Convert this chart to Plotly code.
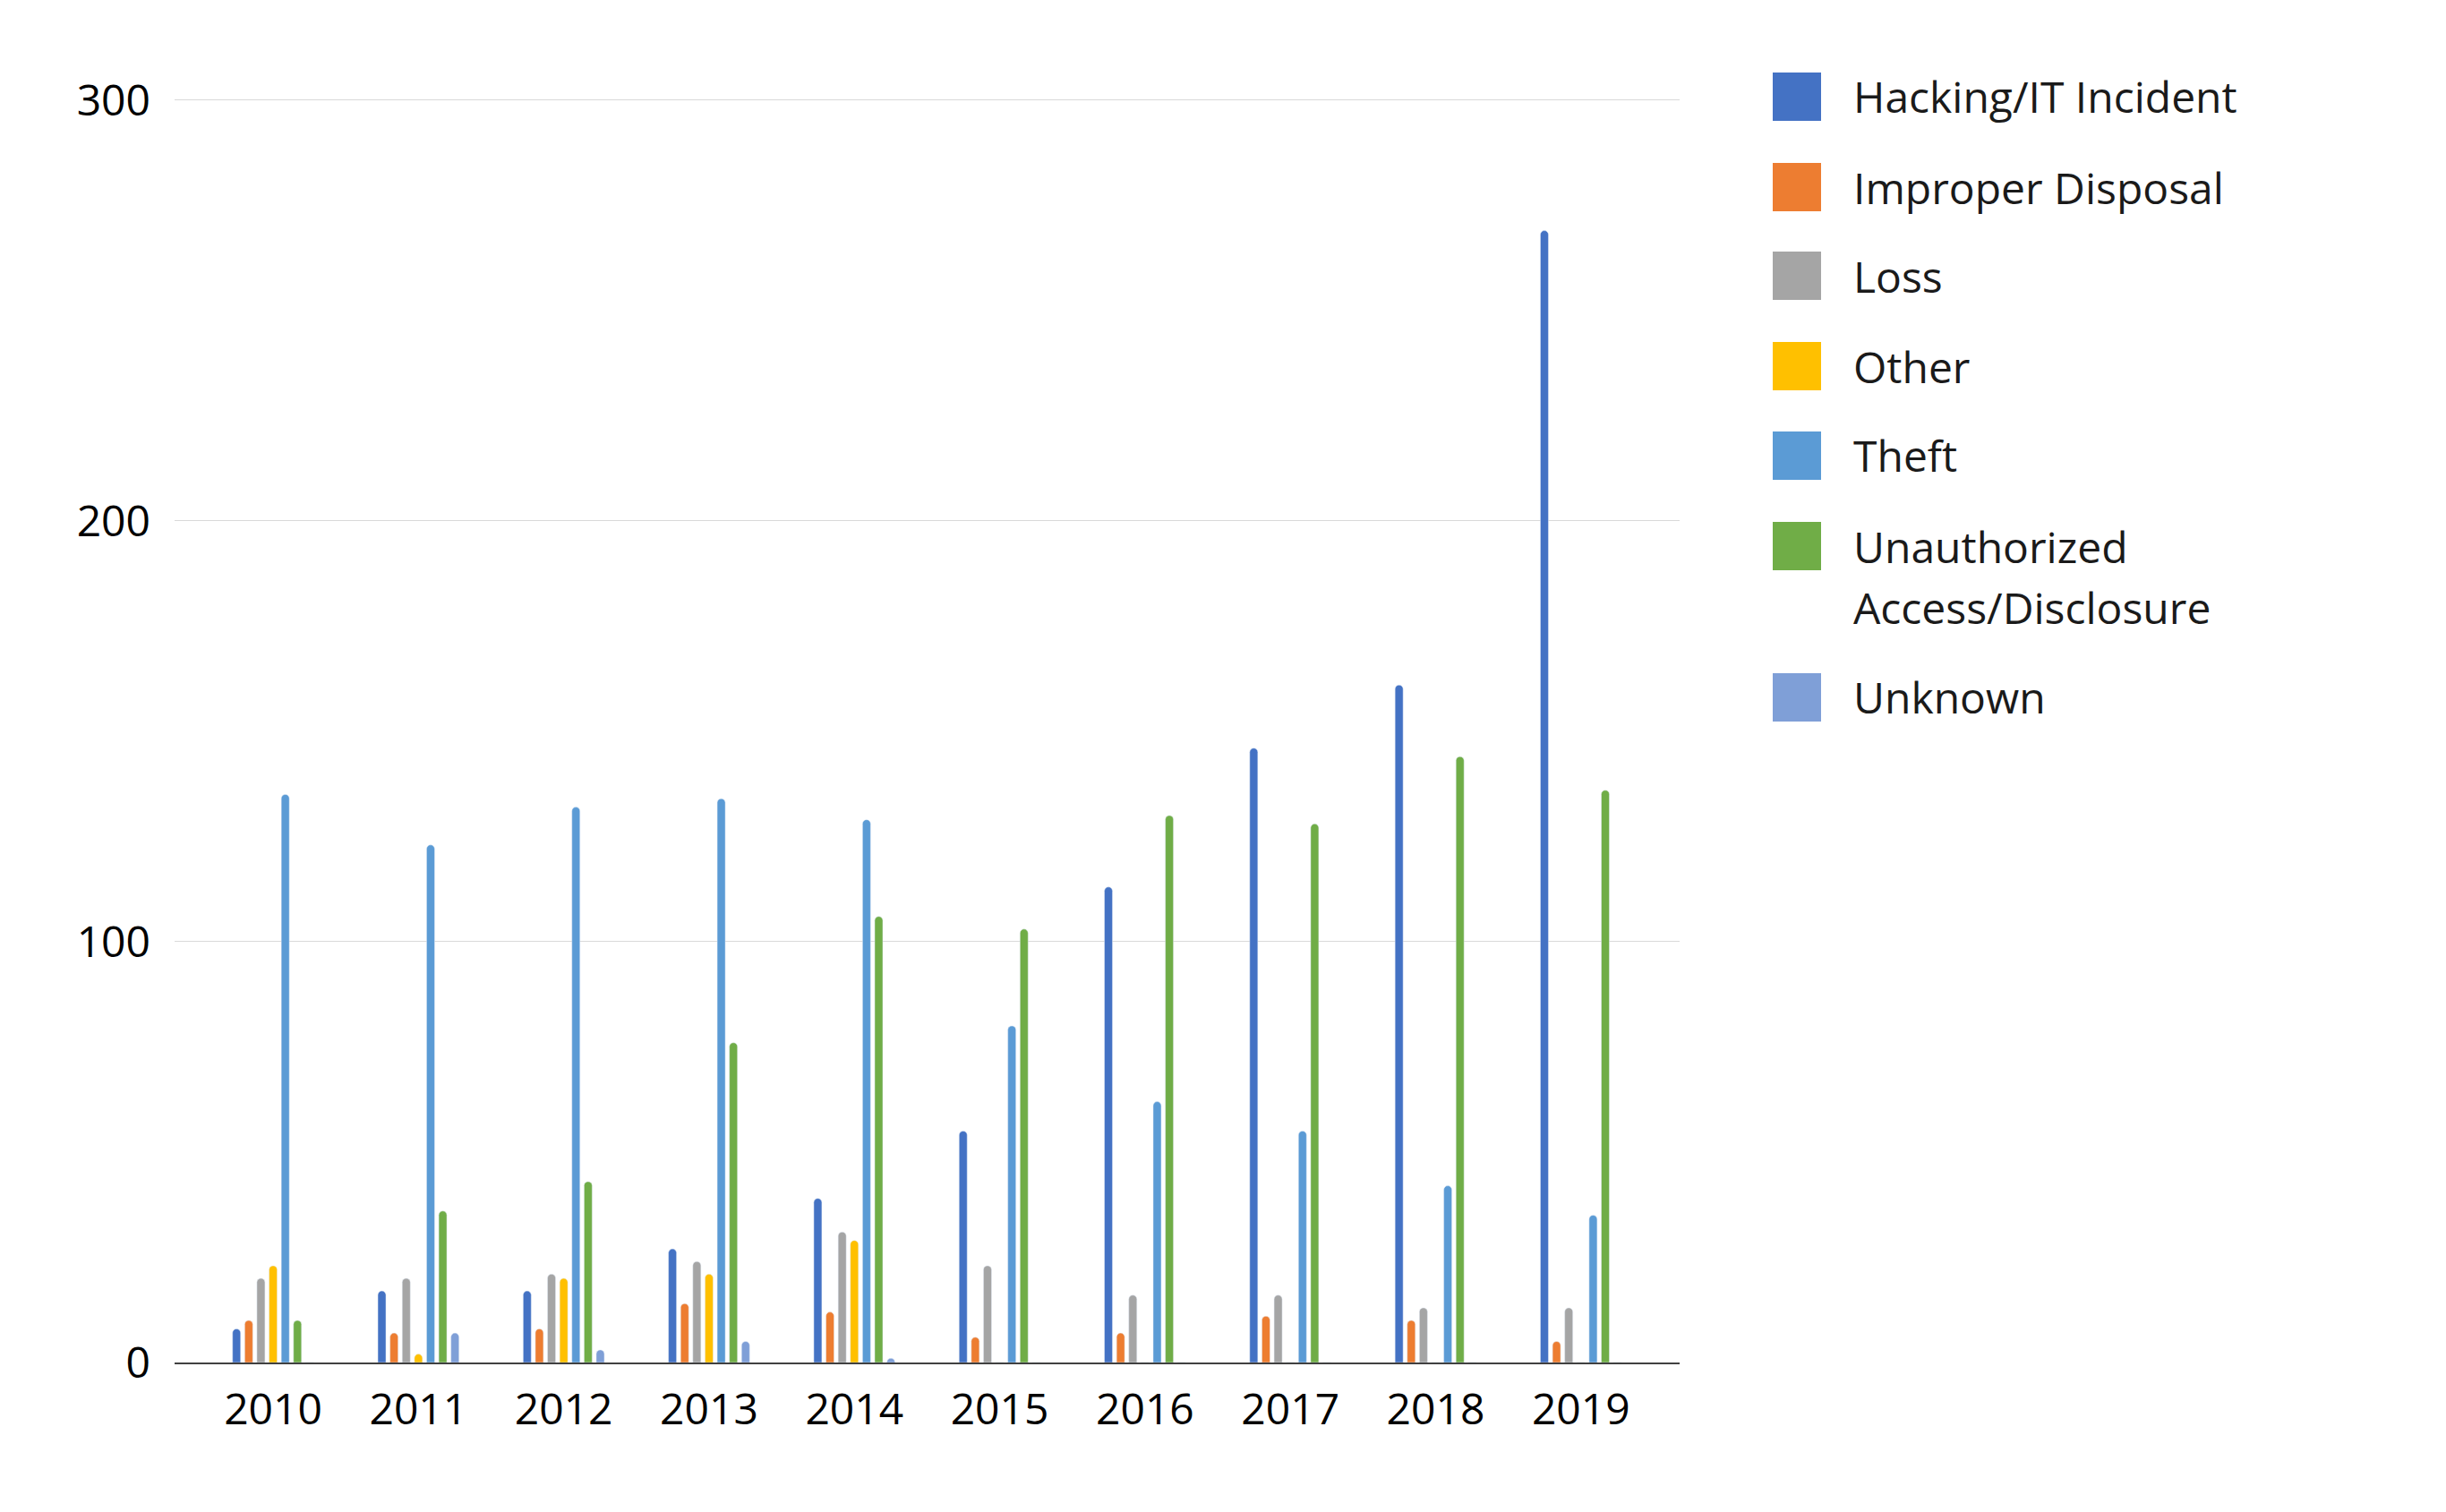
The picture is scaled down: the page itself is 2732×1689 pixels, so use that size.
import plotly.graph_objects as go

years = ["2010", "2011", "2012", "2013", "2014", "2015", "2016", "2017", "2018", "2019"]
series_names = ["Hacking/IT Incident", "Improper Disposal", "Loss", "Other", "Theft",
                "Unauthorized Access/Disclosure", "Unknown"]
hacking = [8, 17, 17, 27, 39, 55, 113, 146, 161, 269]
improper = [10, 7, 8, 14, 12, 6, 7, 11, 10, 5]
loss = [20, 20, 21, 24, 31, 23, 16, 16, 13, 13]
other = [23, 2, 20, 21, 29, 0, 0, 0, 0, 0]
theft = [135, 123, 132, 134, 129, 80, 62, 55, 42, 35]
unauthorized = [10, 36, 43, 76, 106, 103, 130, 128, 144, 136]
unknown = [0, 7, 3, 5, 1, 0, 0, 0, 0, 0]
y_ticks = [0, 100, 200, 300]

colors = ["#4472C4", "#ED7D31", "#A5A5A5", "#FFC000", "#5B9BD5", "#70AD47", "#7F9FD7"]
all_series = [hacking, improper, loss, other, theft, unauthorized, unknown]

W, H = 2732, 1689
L, R, T, B = 195, 1876, 110, 1522

fig = go.Figure()
for name, vals, col in zip(series_names, all_series, colors):
    fig.add_trace(go.Bar(x=years, y=vals, name=name, marker=dict(color=col, cornerradius="50%"),
                         showlegend=False))

FONT = "Open Sans, Noto Sans, sans-serif"

def px_x(px):
    return (px - L) / (R - L)

def px_y(py):
    return (B - py) / (B - T)

# manual legend
legend_rows = [
    ("Hacking/IT Incident", 108, [108]),
    ("Improper Disposal", 209, [209]),
    ("Loss", 308, [308]),
    ("Other", 409, [409]),
    ("Theft", 509, [509]),
    ("Unauthorized Access/Disclosure", 610, [610, 678]),
    ("Unknown", 779, [779]),
]
shapes = []
annotations = []
for (name, cy, lines), col in zip(legend_rows, colors):
    shapes.append(dict(type="rect", xref="paper", yref="paper",
                       x0=px_x(1980), x1=px_x(2034), y0=px_y(cy + 27), y1=px_y(cy - 27),
                       fillcolor=col, line=dict(width=0), layer="above"))
    parts = ["Unauthorized", "Access/Disclosure"] if len(lines) == 2 else [name]
    for txt, ly in zip(parts, lines):
        annotations.append(dict(text=txt, xref="paper", yref="paper", x=px_x(2068), y=px_y(ly),
                                xanchor="left", yanchor="middle", showarrow=False,
                                font=dict(family=FONT, size=48, color="#1a1a1a")))

fig.update_layout(
    width=W, height=H,
    margin=dict(l=L, r=W - R, t=T, b=H - B, pad=0),
    paper_bgcolor="white", plot_bgcolor="white",
    barmode="group", bargap=0.413, bargroupgap=0.339,
    shapes=shapes, annotations=annotations,
    xaxis=dict(type="category", range=[-0.678, 9.679], showgrid=False,
               showline=True, linecolor="#404040", linewidth=1.5, ticks="",
               tickfont=dict(family=FONT, size=48, color="#000000"), ticklabelstandoff=10,
               fixedrange=True),
    yaxis=dict(range=[0, 300.4], tickvals=y_ticks, showgrid=True, gridcolor="#d9d9d9", gridwidth=1.2,
               zeroline=False, showline=False, ticks="",
               tickfont=dict(family=FONT, size=48, color="#000000"), ticklabelstandoff=26),
)

fig.write_html("out.html")
